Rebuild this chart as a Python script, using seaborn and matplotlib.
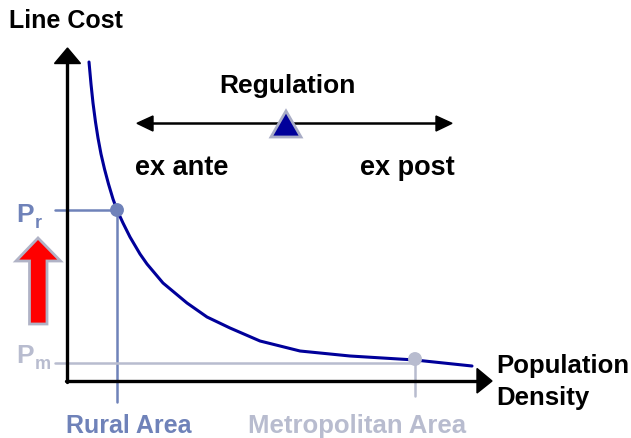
import numpy as np
import pandas as pd
import matplotlib
matplotlib.use('Agg')
import matplotlib.pyplot as plt
from matplotlib.patches import Polygon
import seaborn as sns

# ----------------------------------------------------------------------------
# Data (figure pixel frame, y grows downwards)

curve_x = [89, 91, 93, 95.5, 98, 101, 104.5, 108.5, 113, 117, 123, 130, 140,
           147, 163, 187, 207, 230, 260, 300, 350, 415, 472]
curve_y = [62, 84, 103, 122, 138, 154, 169, 184, 199, 210, 223, 237, 254,
           264, 283, 303, 317, 328, 341, 351, 356, 360, 366]

point_names = ['Rural Area', 'Metropolitan Area']
point_x = [117, 415]
point_y = [210, 359]
price_names = ['r', 'm']

blue = '#6f82b9'
grey = '#b8bccf'
navy = '#00009a'

# ----------------------------------------------------------------------------

sns.set_theme(style='white')
plt.rcParams['font.family'] = ['Liberation Sans', 'DejaVu Sans']

fig = plt.figure(figsize=(6.31, 4.38), dpi=100)
ax = fig.add_axes([0, 0, 1, 1])

curve = pd.DataFrame({'x': curve_x, 'y': curve_y})
pts = pd.DataFrame({'x': point_x, 'y': point_y, 'name': point_names})

# guide lines
ax.plot([55, point_x[0]], [point_y[0], point_y[0]], color=blue, lw=1.8, zorder=2)
ax.plot([point_x[0], point_x[0]], [point_y[0], 402], color=blue, lw=1.8, zorder=2)
ax.plot([55, point_x[1]], [362.5, 362.5], color=grey, lw=1.8, zorder=2)
ax.plot([point_x[1], point_x[1]], [point_y[1], 396], color=grey, lw=1.8, zorder=2)

# axes with arrow heads
ax.plot([67, 67], [382, 60], color='black', lw=2.4, zorder=3)
ax.plot([66, 480], [381, 381], color='black', lw=2.4, zorder=3)
ax.add_patch(Polygon([[54.5, 63.5], [80.5, 63.5], [67.5, 48]], closed=True,
                     color='black', zorder=3))
ax.add_patch(Polygon([[477, 368.5], [477, 393], [492, 381]], closed=True,
                     color='black', zorder=3))

# cost curve and points
sns.lineplot(data=curve, x='x', y='y', ax=ax, color=navy, lw=2.2,
             sort=False, estimator=None, zorder=4)
sns.scatterplot(data=pts, x='x', y='y', hue='name', palette=[blue, grey],
                s=100, edgecolor='none', legend=False, ax=ax, zorder=5)

# regulation arrow
ax.plot([148, 442], [123.3, 123.3], color='black', lw=1.8, zorder=3)
ax.add_patch(Polygon([[137, 123.3], [153, 116], [153, 131]], closed=True,
                     color='black', zorder=3))
ax.add_patch(Polygon([[452, 123.3], [436, 116], [436, 131]], closed=True,
                     color='black', zorder=3))
ax.add_patch(Polygon([[271, 137], [301, 137], [286, 111]], closed=True,
                     facecolor=navy, edgecolor='#a9adc6', lw=2, zorder=4))

# red arrow
ax.add_patch(Polygon([[29.5, 324], [47, 324], [47, 261], [60.5, 261], [38, 238],
                      [16, 261], [29.5, 261]], closed=True,
                     facecolor='#ff0000', edgecolor='#b0b3c6', lw=2, zorder=4))

ax.text(9, 28, 'Line Cost', ha='left', va='baseline', color='black',
        fontweight='bold', fontsize=18)
ax.text(287, 92.5, 'Regulation', ha='center', va='baseline', color='black',
        fontweight='bold', fontsize=19)
ax.text(182, 175, 'ex ante', ha='center', va='baseline', color='black',
        fontweight='bold', fontsize=19.5)
ax.text(407, 175, 'ex post', ha='center', va='baseline', color='black',
        fontweight='bold', fontsize=19.5)
ax.text(496, 373, 'Population', ha='left', va='baseline', color='black',
        fontweight='bold', fontsize=18.5)
ax.text(496, 405, 'Density', ha='left', va='baseline', color='black',
        fontweight='bold', fontsize=18.5)
ax.text(128.5, 433, point_names[0], ha='center', va='baseline', color=blue,
        fontweight='bold', fontsize=18)
ax.text(357, 433, point_names[1], ha='center', va='baseline', color=grey,
        fontweight='bold', fontsize=18.5)

# P_r and P_m labels
for yy, sub, col in [(222, price_names[0], blue), (363, price_names[1], grey)]:
    ax.text(16.5, yy, 'P', ha='left', va='baseline', color=col,
            fontweight='bold', fontsize=19)
    ax.text(35, yy + 6, sub, ha='left', va='baseline', color=col,
            fontweight='bold', fontsize=13)

ax.set_xlim(0, 631)
ax.set_ylim(438, 0)
ax.axis('off')

plt.savefig('out.png', dpi=100)
plt.close(fig)
